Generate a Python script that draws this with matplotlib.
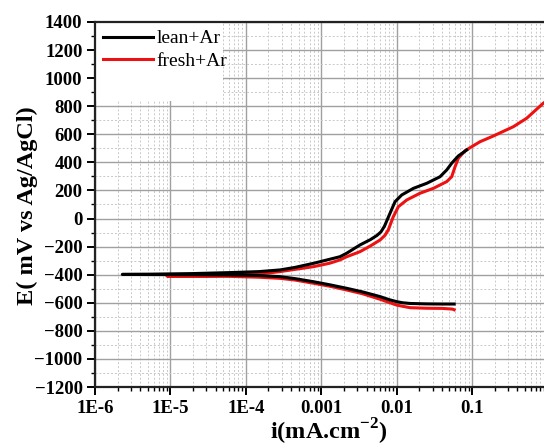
import matplotlib
matplotlib.use("Agg")
import matplotlib.pyplot as plt
from matplotlib.ticker import LogLocator, FixedLocator, MultipleLocator, NullFormatter, FuncFormatter
from matplotlib.patches import Rectangle

plt.rcParams['font.family'] = ['Liberation Serif', 'DejaVu Serif']
plt.rcParams['mathtext.fontset'] = 'custom'
plt.rcParams['mathtext.rm'] = 'Liberation Serif'
plt.rcParams['mathtext.bf'] = 'Liberation Serif:bold'

# lean+Ar: cathodic branch (high current -> Ecorr) then anodic branch
lean_cath_i = [0.058, 0.04, 0.025, 0.0151, 0.012, 0.01, 0.008, 0.00603, 0.0035, 0.00218,
               0.0013, 7.9e-4, 4.5e-4, 2.85e-4, 1.5e-4, 6.2e-5, 2e-5, 6e-6, 2.3e-6]
lean_cath_E = [-609, -609, -608, -605, -600, -592, -578, -556, -522, -497,
               -472, -450, -428, -414, -406, -402, -400, -399, -398]
lean_an_i = [2.3e-6, 6e-6, 2e-5, 6.2e-5, 1.5e-4, 2.85e-4, 4.5e-4, 7.9e-4, 1.3e-3, 1.77e-3,
             2.18e-3, 3.27e-3, 4.5e-3, 5.5e-3, 6.2e-3, 6.9e-3, 8.17e-3, 9.53e-3, 0.0117, 0.0167,
             0.0251, 0.0377, 0.0462, 0.0538, 0.0659, 0.085]
lean_an_E = [-398, -396, -392, -385, -378, -366, -348, -319, -290, -272,
             -247, -188, -150, -120, -95, -55, 37, 120, 168, 215,
             251, 298, 346, 394, 446, 488]

# fresh+Ar
fresh_cath_i = [0.058, 0.055, 0.04, 0.025, 0.0151, 0.012, 0.01, 0.008, 0.00603, 0.0035,
                0.00218, 0.0013, 7.9e-4, 4.5e-4, 2.85e-4, 1.5e-4, 6.2e-5, 2e-5, 9e-6]
fresh_cath_E = [-650, -645, -640, -639, -635, -625, -616, -598, -575, -535,
                -509, -482, -461, -438, -426, -418, -412, -411, -410]
fresh_an_i = [9e-6, 2e-5, 6.2e-5, 1.5e-4, 2.85e-4, 4.5e-4, 7.9e-4, 1.3e-3, 1.77e-3, 2.18e-3,
              3.27e-3, 4.5e-3, 6.03e-3, 7.0e-3, 7.76e-3, 9.04e-3, 0.01054, 0.0136, 0.0204, 0.0307,
              0.0462, 0.0538, 0.0596, 0.0659, 0.0808, 0.1275, 0.192, 0.353, 0.53, 0.88, 1.2]
fresh_an_E = [-410, -408, -405, -395, -378, -362, -343, -318, -295, -272,
              -236, -195, -153, -120, -81, 13, 84, 132, 180, 215,
              263, 298, 369, 429, 483, 547, 588, 654, 714, 821, 870]

x_ticks = [1e-6, 1e-5, 1e-4, 1e-3, 1e-2, 1e-1, 1]
x_tick_labels = ["1E-6", "1E-5", "1E-4", "0.001", "0.01", "0.1", "1"]
y_ticks = list(range(-1200, 1401, 200))

W, H = 544, 448
fig = plt.figure(figsize=(W / 100, H / 100), dpi=100)
decade = 75.4
left, top, bottom = 95, 22, 387
ax = fig.add_axes([left / W, 1 - bottom / H, 7 * decade / W, (bottom - top) / H])
ax.set_xscale('log')
ax.set_xlim(1e-6, 10)
ax.set_ylim(-1200, 1400)

lean_i = lean_cath_i + lean_an_i
lean_E = lean_cath_E + lean_an_E
fresh_i = fresh_cath_i + fresh_an_i
fresh_E = fresh_cath_E + fresh_an_E
ax.plot(lean_i, lean_E, color='black', lw=2.2, label='lean+Ar', zorder=3,
        solid_joinstyle='round')
ax.plot(fresh_i, fresh_E, color='#ee1111', lw=2.2, label='fresh+Ar', zorder=2.5,
        solid_joinstyle='round')

ax.xaxis.set_major_locator(FixedLocator(x_ticks))
ax.xaxis.set_major_formatter(FuncFormatter(lambda v, p: dict(zip(x_ticks, x_tick_labels)).get(v, "")))
ax.xaxis.set_minor_locator(LogLocator(base=10, subs=range(2, 10), numticks=20))
ax.xaxis.set_minor_formatter(NullFormatter())
ax.yaxis.set_major_locator(FixedLocator(y_ticks))
ax.yaxis.set_minor_locator(MultipleLocator(100))

ax.set_axisbelow(True)
ax.grid(which='major', color='#a0a0a0', lw=1.0, ls='-')
ax.grid(which='minor', color='#c8c8c8', lw=0.7, ls=(0, (2, 2)))

for s in ['left', 'bottom', 'top']:
    ax.spines[s].set_linewidth(1.6)
    ax.spines[s].set_color('#222222')
ax.spines['right'].set_visible(False)

ax.tick_params(which='major', direction='out', length=6, width=1.4, labelsize=13.5, pad=3)
ax.tick_params(which='minor', direction='out', length=3, width=1.0)
for lab in ax.get_xticklabels() + ax.get_yticklabels():
    lab.set_fontweight('bold')

# white panel behind the legend
span_x = 7 * decade
ax.add_patch(Rectangle((0, 1 - (101 - top) / (bottom - top)), (223 - left) / span_x,
                       (101 - top) / (bottom - top), transform=ax.transAxes,
                       facecolor='white', edgecolor='none', zorder=1))
leg = ax.legend(loc='upper left', frameon=False, fontsize=14, handlelength=2.6,
                handletextpad=0.15, borderaxespad=0.1, labelspacing=0.25, borderpad=0.3)
for ln in leg.get_lines():
    ln.set_linewidth(2.2)

fig.text(27 / W, 1 - 206 / H, "E( mV vs Ag/AgCl)", rotation=90, ha='center', va='center',
         fontsize=17.5, fontweight='bold')
fig.text(329 / W, 1 - 432 / H, r"i(mA.cm$^{\mathbf{-2}}$)", ha='center', va='center',
         fontsize=17.5, fontweight='bold')

fig.savefig('out.png', dpi=100)
